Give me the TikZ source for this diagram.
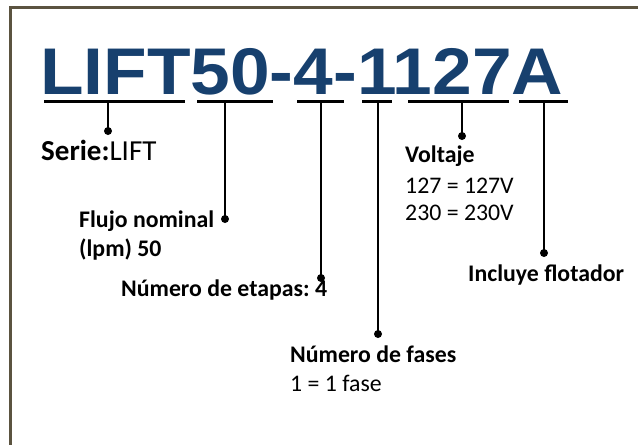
\documentclass[tikz,border=0pt]{standalone}
\usepackage{fontspec}
\setmainfont{Carlito}
\newfontfamily\codefont{Liberation Sans}
\definecolor{codeblue}{HTML}{17406E}
\definecolor{framebrown}{HTML}{5B5340}
\frenchspacing
\begin{document}
\begin{tikzpicture}[x=1pt,y=-1pt,
  txt/.style={anchor=base west,inner sep=0pt,font=\fontsize{23.8}{28}\selectfont},
  bar/.style={line width=2.5pt},
  tap/.style={line width=2pt}]
  \useasboundingbox (0,0) rectangle (638,445);
  \draw[framebrown,line width=3pt] (638,7.3) -- (10,7.3) -- (10,445);
  % model code
  \node[anchor=base west,inner sep=0pt,text=codeblue,
    font=\codefont\bfseries\fontsize{66}{72}\selectfont] (code) at (40,94)
    {\scalebox{1.08}[1]{LIFT50-4-1127A}};
  % underlines, taps and dots
  \foreach \a/\b/\t/\d [count=\i] in {44/185/108/131, 197/273/225/219,
    297/344/321/278, 362/392/378/334, 408/509/462/136, 519/568/544/253}
  {
    \coordinate (u\i a) at (\a,101.7);
    \coordinate (u\i b) at (\b,101.7);
    \coordinate (t\i) at (\t,101.7);
    \coordinate (d\i) at (\t,\d);
    \draw[bar] (u\i a) -- (u\i b);
    \draw[tap] (t\i) -- (d\i);
    \fill (d\i) circle (4);
  }
  % labels
  \node[txt,font=\fontsize{29}{34}\selectfont] (serie) at (41,160.7) {\textbf{Serie:}LIFT};
  \node[txt] (flujo) at (79,227.7) {\textbf{Flujo nominal}};
  \node[txt] (lpm) at (79,256.7) {\textbf{(lpm) 50}};
  \node[txt] (etapas) at (121,296) {\textbf{Número de etapas: 4}};
  \node[txt] (fases) at (290,362.7) {\textbf{Número de fases}};
  \node[txt] (fase1) at (290,391.7) {1 = 1 fase};
  \node[txt] (volt) at (405,162.3) {\textbf{Voltaje}};
  \node[txt] (v127) at (405,193.3) {127 = 127V};
  \node[txt] (v230) at (405,220.7) {230 = 230V};
  \node[txt] (flot) at (468,281.7) {\textbf{Incluye flotador}};
\end{tikzpicture}
\end{document}
